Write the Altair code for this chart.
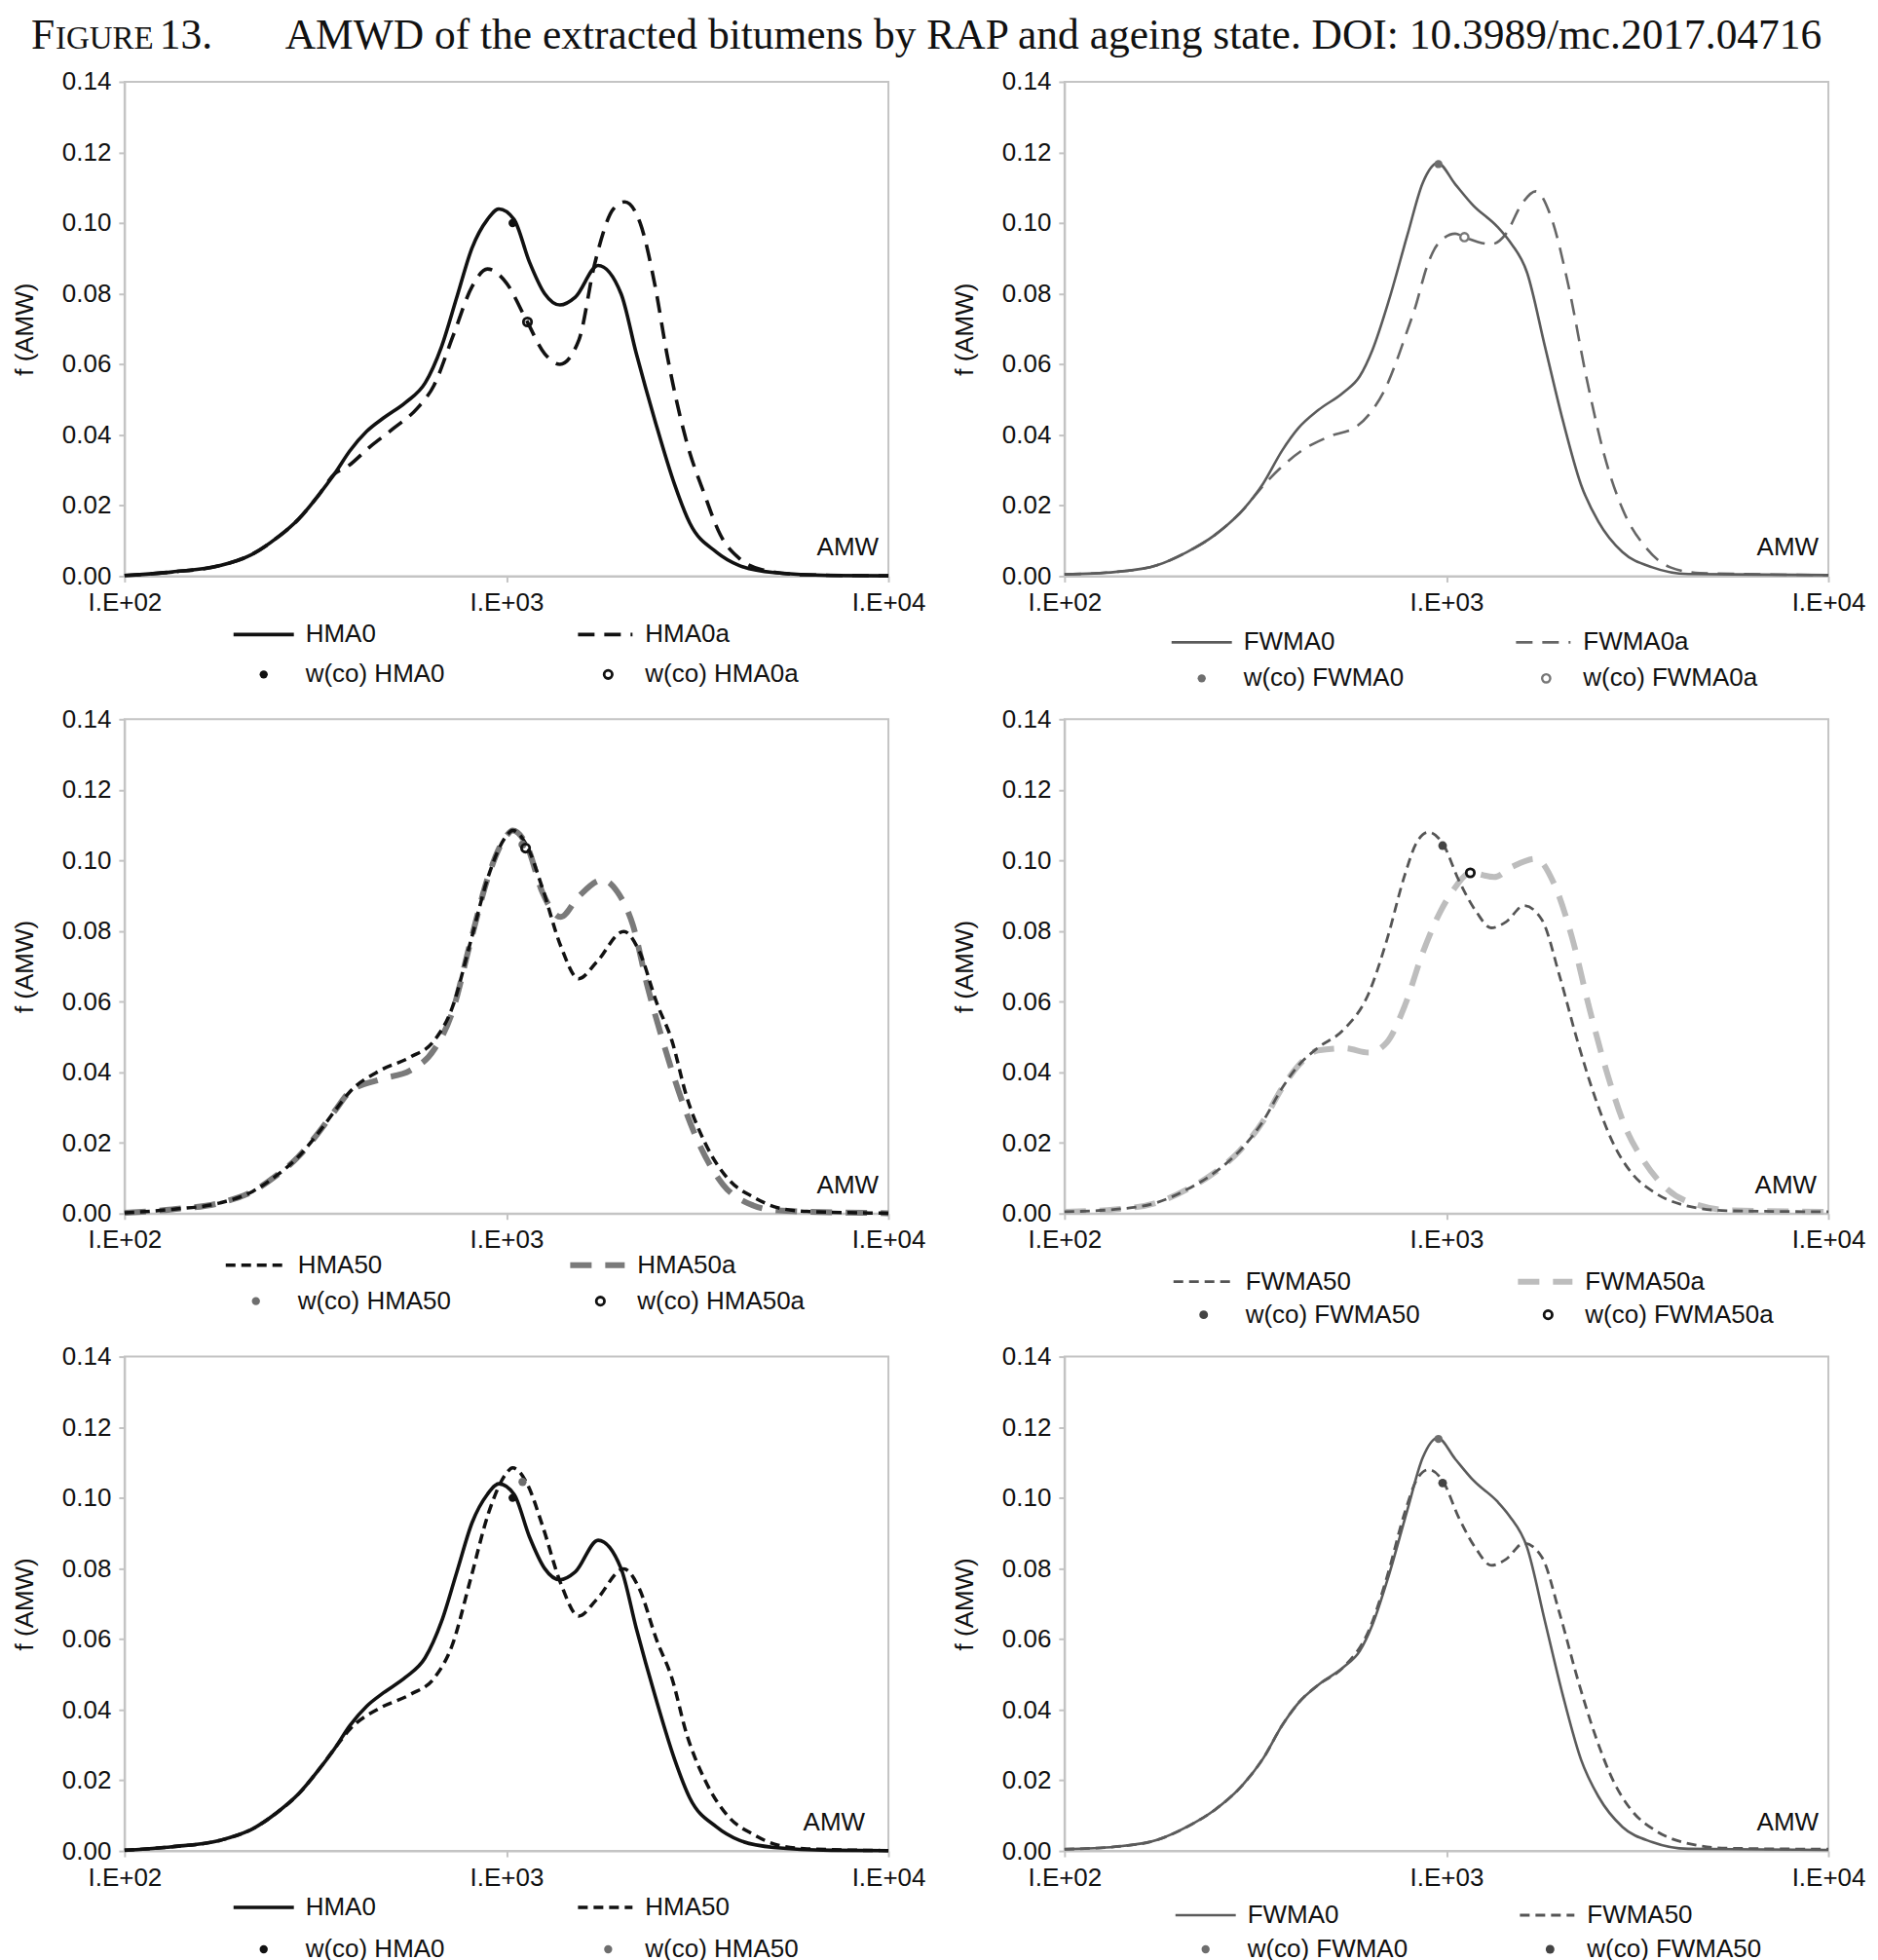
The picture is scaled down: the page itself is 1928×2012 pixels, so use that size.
import altair as alt
import pandas as pd

# ---------------- data (x = log10(AMW), f = f(AMW)) ----------------
hma0_x = [2.00, 2.125, 2.25, 2.336, 2.397, 2.456, 2.507, 2.55, 2.59, 2.634, 2.678, 2.736, 2.787, 2.83, 2.87,
          2.91, 2.95, 2.98, 3.02, 3.06, 3.10, 3.14, 3.18, 3.24, 3.30, 3.34, 3.39, 3.44, 3.48, 3.55, 3.61, 3.70,
          3.85, 4.00]
hma0_f = [0.0002, 0.0012, 0.003, 0.0063, 0.0107, 0.0162, 0.0228, 0.029, 0.0355, 0.041, 0.0448, 0.0492,
          0.0547, 0.065, 0.079, 0.093, 0.101, 0.104, 0.101, 0.089, 0.080, 0.0768, 0.079, 0.088, 0.080, 0.063,
          0.0436, 0.026, 0.015, 0.0068, 0.003, 0.001, 0.0002, 0.0001]

hma0a_x = [2.00, 2.125, 2.25, 2.336, 2.397, 2.456, 2.507, 2.55, 2.583, 2.642, 2.706, 2.767, 2.81, 2.86, 2.91,
           2.95, 3.00, 3.05, 3.10, 3.14, 3.19, 3.23, 3.28, 3.31, 3.35, 3.39, 3.42, 3.47, 3.52, 3.56, 3.61, 3.67,
           3.78, 4.00]
hma0a_f = [0.0002, 0.0012, 0.003, 0.0063, 0.0107, 0.0162, 0.0228, 0.029, 0.031, 0.0366, 0.042, 0.0476, 0.054,
           0.068, 0.082, 0.087, 0.083, 0.073, 0.063, 0.060, 0.067, 0.088, 0.104, 0.106, 0.100, 0.0817, 0.063,
           0.0387, 0.0227, 0.0117, 0.005, 0.0018, 0.0004, 0.0001]

fwma0_x = [2.00, 2.133, 2.242, 2.320, 2.393, 2.469, 2.52, 2.57, 2.613, 2.664, 2.73, 2.773, 2.806, 2.849,
           2.898, 2.938, 2.977, 3.023, 3.070, 3.133, 3.164, 3.211, 3.258, 3.305, 3.352, 3.398, 3.461, 3.539,
           3.633, 4.00]
fwma0_f = [0.0005, 0.0012, 0.0031, 0.0068, 0.0116, 0.019, 0.0262, 0.0356, 0.042, 0.047, 0.052, 0.0566, 0.064,
           0.078, 0.0967, 0.1114, 0.117, 0.111, 0.105, 0.099, 0.095, 0.086, 0.065, 0.044, 0.026, 0.0154,
           0.0068, 0.0025, 0.0006, 0.0003]

fwma0a_x = [2.00, 2.133, 2.242, 2.320, 2.393, 2.469, 2.512, 2.563, 2.626, 2.692, 2.766, 2.806, 2.842, 2.869,
            2.895, 2.918, 2.95, 2.977, 3.023, 3.047, 3.117, 3.156, 3.195, 3.234, 3.273, 3.320, 3.367, 3.414,
            3.461, 3.523, 3.586, 3.664, 4.00]
fwma0a_f = [0.0005, 0.0012, 0.0031, 0.0068, 0.0116, 0.019, 0.0246, 0.0304, 0.0359, 0.0395, 0.0425, 0.047,
            0.0536, 0.0608, 0.0688, 0.076, 0.088, 0.094, 0.097, 0.096, 0.094, 0.097, 0.105, 0.109, 0.102, 0.082,
            0.056, 0.034, 0.019, 0.008, 0.0025, 0.0009, 0.0003]

hma50_x = [2.00, 2.125, 2.25, 2.336, 2.397, 2.456, 2.507, 2.55, 2.59, 2.669, 2.748, 2.811, 2.858, 2.906,
           2.953, 3.000, 3.016, 3.055, 3.094, 3.142, 3.189, 3.236, 3.307, 3.346, 3.394, 3.433, 3.472, 3.520,
           3.583, 3.646, 3.709, 3.787, 4.00]
hma50_f = [0.0002, 0.0012, 0.003, 0.0063, 0.0107, 0.0162, 0.0228, 0.029, 0.0345, 0.0405, 0.0443, 0.049,
           0.0583, 0.077, 0.0957, 0.107, 0.1085, 0.1038, 0.0922, 0.0758, 0.0665, 0.0712, 0.0799, 0.0747, 0.0595,
           0.049, 0.033, 0.020, 0.0095, 0.0047, 0.0017, 0.0006, 0.0001]

hma50a_x = [2.00, 2.125, 2.25, 2.336, 2.397, 2.456, 2.507, 2.55, 2.59, 2.669, 2.748, 2.811, 2.858, 2.906,
            2.953, 3.000, 3.016, 3.055, 3.094, 3.142, 3.189, 3.252, 3.291, 3.331, 3.370, 3.409, 3.457, 3.504,
            3.567, 3.646, 3.709, 4.00]
hma50a_f = [0.0002, 0.0012, 0.003, 0.0063, 0.0107, 0.0162, 0.0228, 0.029, 0.0345, 0.038, 0.0405, 0.0465,
            0.057, 0.077, 0.0957, 0.107, 0.1085, 0.1038, 0.091, 0.084, 0.0898, 0.0945, 0.091, 0.0817, 0.064,
            0.049, 0.0327, 0.0198, 0.0082, 0.0023, 0.0009, 0.0001]

fwma50_x = [2.00, 2.133, 2.242, 2.320, 2.393, 2.469, 2.52, 2.57, 2.613, 2.664, 2.73, 2.797, 2.844, 2.891,
            2.922, 2.953, 2.992, 3.031, 3.078, 3.117, 3.156, 3.203, 3.25, 3.297, 3.344, 3.391, 3.438, 3.484,
            3.547, 3.625, 3.734, 4.00]
fwma50_f = [0.0005, 0.0012, 0.0031, 0.0068, 0.0116, 0.019, 0.0262, 0.0356, 0.042, 0.047, 0.052, 0.0625,
            0.0775, 0.0959, 0.1051, 0.108, 0.1045, 0.0947, 0.0855, 0.0809, 0.0826, 0.0872, 0.0832, 0.067,
            0.0485, 0.0323, 0.0196, 0.0116, 0.0058, 0.0023, 0.0008, 0.0005]

fwma50a_x = [2.00, 2.133, 2.242, 2.320, 2.393, 2.469, 2.52, 2.57, 2.613, 2.664, 2.734, 2.797, 2.844, 2.891,
             2.938, 2.984, 3.016, 3.063, 3.125, 3.172, 3.234, 3.281, 3.328, 3.375, 3.422, 3.469, 3.516, 3.578,
             3.656, 3.75, 4.00]
fwma50a_f = [0.0005, 0.0012, 0.0031, 0.0068, 0.0116, 0.019, 0.0262, 0.0356, 0.042, 0.0462, 0.0468, 0.0456,
             0.0485, 0.0589, 0.0739, 0.0855, 0.0913, 0.0965, 0.0953, 0.0982, 0.1005, 0.0936, 0.0785, 0.0578,
             0.0393, 0.0243, 0.015, 0.0069, 0.0025, 0.0009, 0.0005]

# w(co) points: (log10 AMW, f)
wco = {
    "HMA0": (3.016, 0.100), "HMA0a": (3.055, 0.072),
    "FWMA0": (2.979, 0.1167), "FWMA0a": (3.047, 0.096),
    "HMA50": (3.042, 0.1045), "HMA50a": (3.05, 0.1035),
    "FWMA50": (2.99, 0.1042), "FWMA50a": (3.0625, 0.0965),
}

x_tick_values = [2, 3, 4]
x_tick_labels = ["I.E+02", "I.E+03", "I.E+04"]
y_tick_values = [0.0, 0.02, 0.04, 0.06, 0.08, 0.10, 0.12, 0.14]

title_parts = ["F", "IGURE", "13.", "AMWD of the extracted bitumens by RAP and ageing state. DOI: 10.3989/mc.2017.04716"]

# ---------------- styles ----------------
SANS = "Liberation Sans"
SERIF = "Liberation Serif"
W, H = 785, 508
FS = 26
BLACK = "#111111"
FRAME = "#c4c4c4"
TITLE_Y = -34

solid_black = {"color": BLACK, "strokeWidth": 3.6}
dash_black = {"color": BLACK, "strokeWidth": 3.6, "strokeDash": [17, 10]}
short_black = {"color": BLACK, "strokeWidth": 3.5, "strokeDash": [10, 6]}
thick_gray = {"color": "#7a7a7a", "strokeWidth": 6, "strokeDash": [22, 14]}
solid_gray = {"color": "#5b5b5b", "strokeWidth": 2.6}
dash_gray = {"color": "#666666", "strokeWidth": 2.6, "strokeDash": [17, 10]}
short_gray = {"color": "#555555", "strokeWidth": 2.8, "strokeDash": [10, 6]}
thick_light = {"color": "#bdbdbd", "strokeWidth": 6, "strokeDash": [22, 14]}

dot_black = {"filled": True, "color": BLACK, "size": 70}
dot_gray = {"filled": True, "color": "#6e6e6e", "size": 70}
dot_dark = {"filled": True, "color": "#444444", "size": 80}
ring_black = {"filled": False, "color": BLACK, "size": 70, "strokeWidth": 2.8}
ring_gray = {"filled": False, "color": "#777777", "size": 70, "strokeWidth": 2.4}

x_labels_expr = " : ".join(
    [f"datum.value == {v} ? '{l}'" for v, l in zip(x_tick_values[:-1], x_tick_labels[:-1])]
) + f" : '{x_tick_labels[-1]}'"

axis_common = dict(grid=False, tickSize=6, tickColor=FRAME, tickWidth=2, domainColor=FRAME, domainWidth=2,
                   labelFont=SANS, labelFontSize=FS, labelColor=BLACK)

xscale = alt.Scale(domain=[2, 4], nice=False, zero=False)
yscale = alt.Scale(domain=[0, 0.14], nice=False, zero=True)
xaxis = alt.Axis(values=x_tick_values, labelExpr=x_labels_expr, title=None, labelFlush=False,
                 labelOverlap=False, labelPadding=8, **axis_common)
yaxis = alt.Axis(values=y_tick_values, format=".2f", title="f (AMW)", labelPadding=8,
                 titleX=-102, titleY=H / 2, titleAngle=270, titleAlign="center",
                 titleBaseline="middle", titleFontWeight="normal", titleFontSize=FS, titleFont=SANS,
                 titleColor=BLACK, **axis_common)

one = pd.DataFrame({"k": [0]})


def line_layer(xs, fs, style):
    df = pd.DataFrame({"logamw": xs, "f": fs})
    return alt.Chart(df).mark_line(interpolate="monotone", strokeCap="butt", **style).encode(
        x=alt.X("logamw:Q", scale=xscale, axis=xaxis),
        y=alt.Y("f:Q", scale=yscale, axis=yaxis),
    )


def point_layer(name, style):
    px, pf = wco[name]
    df = pd.DataFrame({"logamw": [px], "f": [pf]})
    return alt.Chart(df).mark_point(shape="circle", opacity=1, **style).encode(
        x=alt.X("logamw:Q", scale=xscale, axis=xaxis),
        y=alt.Y("f:Q", scale=yscale, axis=yaxis),
    )


def text_layer(label, x, y, size=FS, font=SANS, align="left", baseline="middle"):
    return alt.Chart(one).mark_text(text=label, font=font, fontSize=size, align=align,
                                    baseline=baseline, color=BLACK).encode(
        x=alt.value(x), y=alt.value(y))


def legend_line(x0, x1, y, style):
    return alt.Chart(one).mark_rule(strokeCap="butt", **style).encode(
        x=alt.value(x0), x2=alt.value(x1), y=alt.value(y))


def legend_point(x, y, style):
    return alt.Chart(one).mark_point(shape="circle", opacity=1, **style).encode(
        x=alt.value(x), y=alt.value(y))


panels = [
    dict(names=["HMA0", "HMA0a"], data=[(hma0_x, hma0_f), (hma0a_x, hma0a_f)],
         styles=[solid_black, dash_black], marks=[dot_black, ring_black],
         rows=(60, 101), dx=0, amw=10, title=True),
    dict(names=["FWMA0", "FWMA0a"], data=[(fwma0_x, fwma0_f), (fwma0a_x, fwma0a_f)],
         styles=[solid_gray, dash_gray], marks=[dot_gray, ring_gray],
         rows=(68, 105), dx=-2, amw=10, title=False),
    dict(names=["HMA50", "HMA50a"], data=[(hma50_x, hma50_f), (hma50a_x, hma50a_f)],
         styles=[short_black, thick_gray], marks=[dot_gray, ring_black],
         rows=(53, 90), dx=-8, amw=10, title=False),
    dict(names=["FWMA50", "FWMA50a"], data=[(fwma50_x, fwma50_f), (fwma50a_x, fwma50a_f)],
         styles=[short_gray, thick_light], marks=[dot_dark, ring_black],
         rows=(70, 104), dx=0, amw=12, title=False),
    dict(names=["HMA0", "HMA50"], data=[(hma0_x, hma0_f), (hma50_x, hma50_f)],
         styles=[solid_black, short_black], marks=[dot_black, dot_gray],
         rows=(58, 101), dx=0, amw=24, title=False),
    dict(names=["FWMA0", "FWMA50"], data=[(fwma0_x, fwma0_f), (fwma50_x, fwma50_f)],
         styles=[solid_gray, short_gray], marks=[dot_gray, dot_dark],
         rows=(66, 101), dx=2, amw=10, title=False),
]


def make_panel(p):
    layers = []
    (xa, fa), (xb, fb) = p["data"]
    layers.append(line_layer(xb, fb, p["styles"][1]))
    layers.append(line_layer(xa, fa, p["styles"][0]))
    layers.append(point_layer(p["names"][0], p["marks"][0]))
    layers.append(point_layer(p["names"][1], p["marks"][1]))
    layers.append(text_layer("AMW", W - p["amw"], H - 21, align="right", baseline="alphabetic"))
    dx = p["dx"]
    r1 = H + p["rows"][0]
    r2 = H + p["rows"][1]
    layers.append(legend_line(112 + dx, 174 + dx, r1, p["styles"][0]))
    layers.append(text_layer(p["names"][0], 186 + dx, r1))
    layers.append(legend_line(466 + dx, 522 + dx, r1, p["styles"][1]))
    layers.append(text_layer(p["names"][1], 535 + dx, r1))
    layers.append(legend_point(143 + dx, r2, p["marks"][0]))
    layers.append(text_layer("w(co) " + p["names"][0], 186 + dx, r2))
    layers.append(legend_point(497 + dx, r2, p["marks"][1]))
    layers.append(text_layer("w(co) " + p["names"][1], 535 + dx, r2))
    if p["title"]:
        layers.append(text_layer(title_parts[0], -96, TITLE_Y, size=43.5, font=SERIF, baseline="alphabetic"))
        layers.append(text_layer(title_parts[1], -71, TITLE_Y, size=33, font=SERIF, baseline="alphabetic"))
        layers.append(text_layer(title_parts[2], 36, TITLE_Y, size=43.5, font=SERIF, baseline="alphabetic"))
        layers.append(text_layer(title_parts[3], 165, TITLE_Y, size=43.5, font=SERIF, baseline="alphabetic"))
    return alt.layer(*layers).properties(width=W, height=H)


chart = alt.ConcatChart(
    concat=[make_panel(p) for p in panels],
    columns=2,
    spacing={"row": 147, "column": 181},
    bounds="flush",
    padding={"left": 4, "top": 5, "right": 4, "bottom": 4},
    background="white",
).configure_view(
    stroke=FRAME, strokeWidth=2
)

chart.save("out.html", embed_options={"renderer": "svg", "actions": False})
